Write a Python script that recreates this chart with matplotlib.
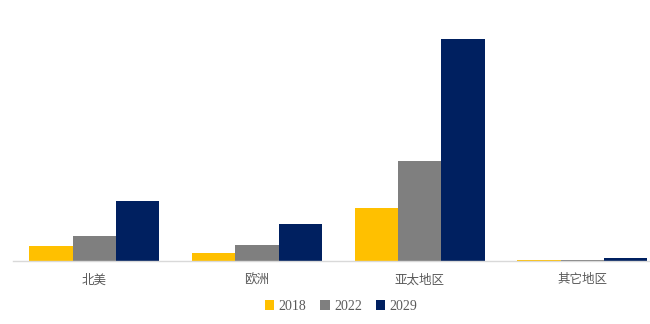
import matplotlib.pyplot as plt
import numpy as np

plt.rcParams['font.family'] = ['Noto Sans CJK SC', 'DejaVu Sans']

regions = ['北美', '欧洲', '亚太地区', '其它地区']
years = ['2018', '2022', '2029']
v2018 = [15.3, 8.3, 53.0, 1.0]
v2022 = [25.0, 16.0, 99.7, 1.3]
v2029 = [60.0, 36.7, 221.7, 3.3]
colors = ['#FFC000', '#7F7F7F', '#002060']

W, H = 650, 324
fig = plt.figure(figsize=(6.5, 3.24), dpi=100)
# axes: left 13px, baseline at 261px, unit width 162.67px
ax = fig.add_axes([13 / W, 1 - 261 / H, 650.7 / W, 240 / H])

x = np.arange(len(regions))
bw = 0.266
series = [v2018, v2022, v2029]
for i, (vals, c, lab) in enumerate(zip(series, colors, years)):
    ax.bar(x + (i - 1) * bw, vals, bw, color=c, label=lab)

ax.set_xlim(-0.5, 3.5)
ax.set_ylim(0, 240)
ax.set_yticks([])
ax.set_xticks(x)
ax.set_xticklabels(regions, fontsize=9, color='#595959')
ax.tick_params(axis='x', length=0, pad=9)
for s in ['top', 'right', 'left']:
    ax.spines[s].set_visible(False)
ax.spines['bottom'].set_color('#d9d9d9')
ax.spines['bottom'].set_linewidth(1)

leg = fig.legend(loc='center', bbox_to_anchor=(341 / W, 1 - 306 / H), ncol=3,
                 frameon=False, handlelength=0.7, handleheight=0.7,
                 handletextpad=0.3, columnspacing=1.0,
                 prop={'family': 'Liberation Serif', 'size': 10})
for t in leg.get_texts():
    t.set_color('#595959')

fig.savefig('out.png', dpi=100)
